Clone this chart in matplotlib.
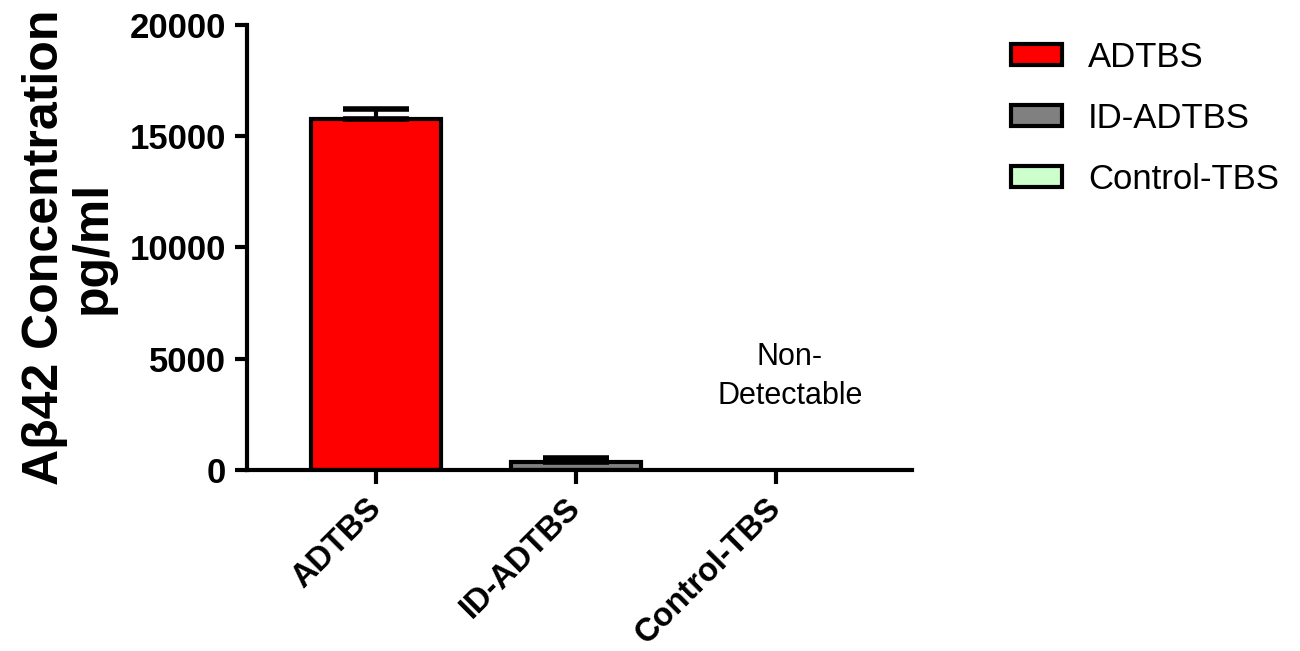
import matplotlib
matplotlib.use("Agg")
import matplotlib.pyplot as plt
import matplotlib.transforms as mtransforms
from matplotlib.patches import Patch

plt.rcParams['font.family'] = ['Liberation Sans', 'DejaVu Sans']

categories = ["ADTBS", "ID-ADTBS", "Control-TBS"]
values = [15750, 350, 0]
errors = [450, 200, 0]
colors = ["#ff0000", "#808080", "#ccffcc"]
yticks = [0, 5000, 10000, 15000, 20000]

fig = plt.figure(figsize=(13, 6.51), dpi=100)
ax = fig.add_axes([0.19, 0.278, 0.5115, 0.6838])

x = list(range(len(categories)))
ax.bar(x[:2], values[:2], width=0.65, color=colors[:2], edgecolor="black",
       linewidth=3, zorder=2)
ax.errorbar(x[:2], values[:2], yerr=[[0, 0], errors[:2]], fmt="none",
            ecolor="black", elinewidth=3, capsize=24, capthick=4, zorder=3)

ax.set_xlim(-0.645, 2.68)
ax.set_ylim(0, 20000)
ax.set_yticks(yticks)
ax.set_yticklabels([str(t) for t in yticks], fontsize=25, fontweight="bold")
ax.set_xticks(x)
ax.set_xticklabels(categories, rotation=45, ha="right",
                   fontsize=23.5, fontweight="bold")
for s in ["top", "right"]:
    ax.spines[s].set_visible(False)
for s in ["left", "bottom"]:
    ax.spines[s].set_linewidth(3)
ax.tick_params(axis="y", length=9, width=3, pad=6)
ax.tick_params(axis="x", length=10, width=3, pad=6)

offset = mtransforms.ScaledTranslation(8 / 72, 0, fig.dpi_scale_trans)
for tick in ax.xaxis.get_major_ticks():
    tick.label1.set_transform(tick.label1.get_transform() + offset)

ax.set_ylabel("Aβ42 Concentration\npg/ml", fontsize=36, fontweight="bold",
              linespacing=1.05, labelpad=10)

ax.text(2.07, 4200, "Non-\nDetectable", ha="center", va="center", fontsize=22,
        linespacing=1.4)

handles = [Patch(facecolor=c, edgecolor="black", linewidth=3) for c in colors]
fig.legend(handles, categories, loc="upper left", bbox_to_anchor=(0.754, 0.985),
           frameon=False, fontsize=25, handlelength=1.45, handleheight=0.55,
           labelspacing=0.8, handletextpad=0.75)

fig.savefig("out.png", dpi=100)
